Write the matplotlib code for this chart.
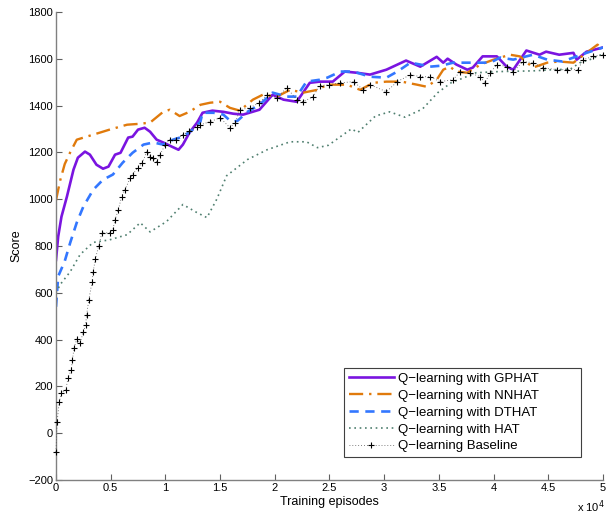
import numpy as np
import matplotlib
matplotlib.use('Agg')
import matplotlib.pyplot as plt
from matplotlib.ticker import FuncFormatter

plt.rcParams['font.family'] = ['Liberation Sans', 'DejaVu Sans']

# episodes in thousands
gp_x = [0, 0.2, 0.5, 1.0, 1.6, 2.0, 2.65, 3.1, 3.7, 4.3, 4.8, 5.4, 5.9, 6.6, 7.0, 7.5, 8.1, 8.6,
        9.2, 9.8, 10.6, 11.2, 11.6, 12.2, 12.9, 13.4, 14.3, 15.3, 16.2, 17.1, 18.6, 19.8, 20.8, 22,
        23.2, 24.1, 25.3, 26.4, 27.5, 28.7, 30.2, 32, 33.3, 34.8, 35.4, 35.8, 36.6, 37.6, 38.1, 39,
        40.3, 41.2, 41.8, 43, 44.2, 44.8, 46, 47.3, 47.6, 48.5, 50]
gp_y = [740, 840, 925, 1011, 1126, 1177, 1203, 1190, 1147, 1130, 1139, 1190, 1198, 1263, 1267, 1297,
        1305, 1288, 1254, 1242, 1224, 1211, 1233, 1284, 1327, 1369, 1378, 1373, 1365, 1361, 1382,
        1446, 1425, 1416, 1497, 1502, 1502, 1545, 1540, 1532, 1553, 1592, 1566, 1608, 1583, 1600,
        1575, 1553, 1562, 1610, 1610, 1566, 1553, 1635, 1617, 1630, 1617, 1625, 1596, 1630, 1648]

nn_x = [0, 0.2, 0.4, 0.8, 1.3, 1.9, 2.8, 4, 4.9, 6.5, 7.7, 8.6, 9.8, 10.4, 11.3, 12.2, 13.2, 14.1,
        15, 15.9, 16.8, 18, 18.9, 20.2, 21.4, 22.6, 23.9, 24.8, 26.6, 27.8, 29, 30.2, 31.6, 33, 33.9,
        34.8, 35.4, 36, 36.6, 37.6, 38.8, 40, 41.5, 42.4, 43.6, 44.9, 46, 47.3, 48.5, 49.5, 50]
nn_y = [995, 1040, 1083, 1150, 1200, 1254, 1267, 1284, 1297, 1318, 1322, 1327, 1373, 1382, 1355,
        1373, 1403, 1412, 1416, 1390, 1378, 1425, 1446, 1438, 1467, 1455, 1467, 1489, 1489, 1467,
        1497, 1502, 1502, 1489, 1480, 1510, 1553, 1566, 1545, 1540, 1575, 1596, 1617, 1610, 1562,
        1583, 1588, 1583, 1625, 1660, 1640]

dt_x = [0, 0.2, 0.8, 1.3, 1.9, 2.5, 3.4, 4.3, 5.2, 6.1, 7, 8, 8.9, 9.8, 10.7, 11.6, 12.5, 13.2,
        13.4, 14.4, 15.3, 15.8, 16.2, 16.6, 17.5, 18.6, 19.8, 21.1, 22, 22.9, 24.1, 24.8, 26, 27.2,
        28.7, 30.2, 31.2, 32.4, 33.3, 34.2, 35.2, 36.3, 37.6, 38.5, 39.7, 40.6, 41.8, 43.6, 44.9,
        46.3, 47.6, 48.5, 50]
dt_y = [540, 670, 735, 814, 900, 968, 1040, 1083, 1105, 1156, 1198, 1233, 1242, 1233, 1254, 1267,
        1297, 1331, 1369, 1369, 1361, 1340, 1331, 1335, 1373, 1403, 1455, 1438, 1438, 1502, 1510,
        1519, 1545, 1545, 1523, 1519, 1545, 1583, 1575, 1566, 1570, 1583, 1583, 1583, 1583, 1605,
        1596, 1617, 1596, 1588, 1610, 1625, 1648]

hat_x = [0, 0.4, 1.3, 2.2, 3.4, 4.9, 6.5, 7.7, 8.6, 10.1, 11.6, 12.9, 13.8, 14.7, 15.6, 17.5, 19.3,
         21.4, 22.9, 23.9, 24.9, 26, 27, 27.6, 29.2, 30.5, 31.9, 33.5, 34.9, 36.2, 37.1, 38.4, 40.5,
         43.6, 45.4, 47, 47.9, 48.8, 50]
hat_y = [600, 636, 690, 763, 815, 826, 848, 899, 860, 904, 977, 942, 921, 1000, 1100, 1169, 1211,
         1245, 1245, 1220, 1230, 1267, 1300, 1285, 1355, 1373, 1350, 1385, 1455, 1500, 1515, 1540,
         1545, 1548, 1553, 1555, 1583, 1596, 1620]

base_x = [0, 0.1, 0.3, 0.5, 0.9, 1.1, 1.4, 1.5, 1.65, 1.9, 2.2, 2.5, 2.7, 2.8, 3.0, 3.3, 3.4, 3.6,
          3.9, 4.2, 4.9, 5.2, 5.4, 5.7, 6.0, 6.3, 6.8, 7.0, 7.5, 7.9, 8.3, 8.6, 8.9, 9.2, 9.5, 10.0,
          10.4, 11.0, 11.6, 12.2, 12.9, 13.2, 14.1, 15.0, 15.9, 16.4, 16.8, 17.7, 18.6, 19.3, 20.2,
          21.1, 22.0, 22.6, 23.5, 24.1, 25.0, 26.0, 27.2, 28.1, 28.7, 30.2, 31.2, 32.4, 33.3, 34.2,
          35.1, 36.3, 36.9, 37.8, 38.8, 39.2, 39.7, 40.3, 41.2, 41.8, 42.7, 43.6, 44.5, 45.8, 46.7,
          47.7, 48.2, 49.1, 50]
base_y = [-80, 47, 133, 173, 185, 237, 270, 313, 364, 402, 385, 432, 462, 505, 570, 647, 690, 745,
          800, 856, 856, 869, 912, 955, 1011, 1040, 1092, 1105, 1135, 1156, 1203, 1182, 1177, 1160,
          1190, 1233, 1254, 1254, 1276, 1290, 1310, 1318, 1331, 1348, 1305, 1327, 1382, 1390, 1412,
          1446, 1433, 1476, 1425, 1416, 1438, 1485, 1489, 1497, 1502, 1467, 1489, 1459, 1502, 1532,
          1523, 1523, 1502, 1510, 1543, 1540, 1523, 1497, 1540, 1575, 1566, 1545, 1588, 1583, 1562,
          1553, 1553, 1553, 1596, 1610, 1617]

labels = ['Q\u2212learning with GPHAT', 'Q\u2212learning with NNHAT', 'Q\u2212learning with DTHAT',
          'Q\u2212learning with HAT', 'Q\u2212learning Baseline']

fig = plt.figure(figsize=(6.06, 5.17), dpi=100)
ax = fig.add_axes([0.0924, 0.0716, 0.9026, 0.9054])

ax.plot(np.array(gp_x) * 1000, gp_y, color='#7a14e0', lw=1.9, label=labels[0])
ax.plot(np.array(nn_x) * 1000, nn_y, color='#e07a0c', lw=1.7, dashes=[6, 2.5, 1, 2.5], label=labels[1])
ax.plot(np.array(dt_x) * 1000, dt_y, color='#3377ff', lw=1.9, dashes=[3.5, 2.5], label=labels[2])
ax.plot(np.array(hat_x) * 1000, hat_y, color='#4f7f6f', lw=1.2, ls=(0, (1, 2.2)), label=labels[3])
ax.plot(np.array(base_x) * 1000, base_y, color='#555555', lw=0.6, ls=(0, (1, 2.5)),
        marker='+', ms=4.5, mec='black', mew=0.8, label=labels[4], clip_on=False, zorder=3)

ax.set_xlim(0, 50000)
ax.set_ylim(-200, 1800)
ax.set_xticks(np.arange(0, 50001, 5000))
ax.set_yticks(np.arange(-200, 1801, 200))
ax.xaxis.set_major_formatter(FuncFormatter(lambda v, p: '%g' % (v / 1e4)))
ax.tick_params(direction='in', length=4, width=0.8, color='#606060', labelsize=8, pad=2)
for s in ['top', 'right']:
    ax.spines[s].set_visible(False)
for s in ['left', 'bottom']:
    ax.spines[s].set_color('#808080')
    ax.spines[s].set_linewidth(1.0)

ax.set_xlabel('Training episodes', fontsize=9, labelpad=2)
ax.set_ylabel('Score', fontsize=9, labelpad=4)
fig.text(0.975, 0.003, 'x 10$^4$', fontsize=8, ha='center', va='bottom')

leg = ax.legend(loc='lower left', bbox_to_anchor=(0.527, 0.049, 0.433, 0.199), mode='expand',
                borderaxespad=0, fontsize=9.5, numpoints=1, fancybox=False, handlelength=3.4,
                handletextpad=0.3, labelspacing=0.35, borderpad=0.35, framealpha=1)
leg.get_frame().set_edgecolor('#404040')
leg.get_frame().set_linewidth(0.8)

plt.savefig('out.png', dpi=100)
